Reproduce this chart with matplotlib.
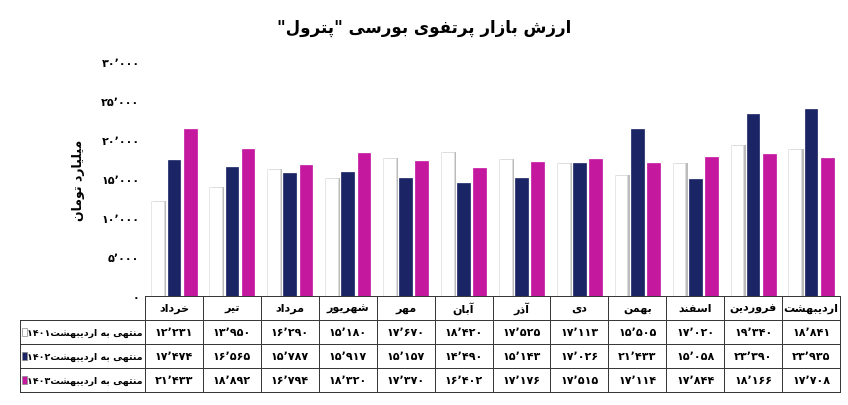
import matplotlib
matplotlib.use("Agg")
import matplotlib.pyplot as plt
from matplotlib.patches import Rectangle

plt.rcParams["font.family"] = "DejaVu Sans"

months = ["خرداد", "تیر", "مرداد", "شهریور", "مهر", "آبان", "آذر", "دی", "بهمن", "اسفند", "فروردین", "اردیبهشت"]
series_names = ["منتهی به اردیبهشت۱۴۰۱", "منتهی به اردیبهشت۱۴۰۲", "منتهی به اردیبهشت۱۴۰۳"]
v1401 = [12231, 13950, 16290, 15180, 17670, 18420, 17525, 17113, 15505, 17020, 19340, 18841]
v1402 = [17474, 16565, 15787, 15917, 15157, 14490, 15143, 17026, 21433, 15058, 23390, 23935]
v1403 = [21433, 18892, 16794, 18320, 17370, 16402, 17176, 17515, 17114, 17844, 18166, 17708]
yticks = [0, 5000, 10000, 15000, 20000, 25000, 30000]
title = 'ارزش بازار پرتفوی بورسی "پترول"'
ylabel = "میلیارد تومان"

colors = ["#ffffff", "#1b2566", "#c4189f"]

F = {}
def _f4(ch, base): F[ch] = (base, base + 1, base + 2, base + 3)
def _f2(ch, base): F[ch] = (base, base + 1, None, None)
for ch, b in [("ب", 0xFE8F), ("ت", 0xFE95), ("ث", 0xFE99), ("ج", 0xFE9D), ("ح", 0xFEA1), ("خ", 0xFEA5),
              ("س", 0xFEB1), ("ش", 0xFEB5), ("ص", 0xFEB9), ("ض", 0xFEBD), ("ط", 0xFEC1), ("ظ", 0xFEC5),
              ("ع", 0xFEC9), ("غ", 0xFECD), ("ف", 0xFED1), ("ق", 0xFED5), ("ل", 0xFEDD), ("م", 0xFEE1),
              ("ن", 0xFEE5), ("ه", 0xFEE9), ("پ", 0xFB56), ("چ", 0xFB7A), ("ک", 0xFB8E), ("گ", 0xFB92),
              ("ی", 0xFBFC)]:
    _f4(ch, b)
for ch, b in [("ا", 0xFE8D), ("آ", 0xFE81), ("د", 0xFEA9), ("ذ", 0xFEAB), ("ر", 0xFEAD), ("ز", 0xFEAF),
              ("ژ", 0xFB8A), ("و", 0xFEED)]:
    _f2(ch, b)

def shape(s):
    out = []
    for i, c in enumerate(s):
        if c not in F:
            out.append(c); continue
        p = s[i - 1] if i > 0 else ""
        n = s[i + 1] if i + 1 < len(s) else ""
        pj = p in F and F[p][2] is not None
        nj = n in F and F[c][2] is not None
        iso, fin, ini, med = F[c]
        if pj and nj: code = med
        elif pj: code = fin
        elif nj: code = ini
        else: code = iso
        out.append(chr(code))
    return "".join(out)

DIG = set("۰۱۲۳۴۵۶۷۸۹٬")
def rtl(s):
    s = shape(s)
    toks, cur, isd = [], "", None
    for c in s:
        d = c in DIG
        if isd is None or d == isd: cur += c
        else: toks.append((cur, isd)); cur = c
        isd = d
    if cur: toks.append((cur, isd))
    return "".join(t if d else t[::-1] for t, d in reversed(toks))

def fa_num(v):
    s = f"{v:,}".replace(",", "٬")
    return s.translate(str.maketrans("0123456789", "۰۱۲۳۴۵۶۷۸۹"))

fig = plt.figure(figsize=(8.48, 4.06), dpi=100)
W, H = 848, 406
ax = fig.add_axes([145 / W, 1 - 297 / H, 695 / W, 234 / H])
n = len(months)
bw = 0.22
for k, (vals, col) in enumerate(zip([v1401, v1402, v1403], colors)):
    xs = [i + (k - 1) * 0.28 for i in range(n)]
    if k == 0:
        ax.bar([x + 0.04 for x in xs], vals, bw, color="#bbbbbb", zorder=1)
    ax.bar(xs, vals, bw, color=col, zorder=2, edgecolor="#dddddd" if k == 0 else col, linewidth=0.5)
ax.set_xlim(-0.5, n - 0.5)
ax.set_ylim(0, 30000)
ax.set_yticks(yticks)
ax.set_yticklabels([fa_num(v) for v in yticks], fontsize=8, fontweight="bold")
ax.set_xticks([])
for s in ["top", "right", "bottom", "left"]:
    ax.spines[s].set_visible(False)
ax.tick_params(axis="y", length=0, pad=4)
ax.set_ylabel(rtl(ylabel), fontsize=9, fontweight="bold", labelpad=12)
fig.text(0.5, 1 - 28 / H, rtl(title), ha="center", va="center", fontsize=12, fontweight="bold")

upx = 695 / n
lab_units = 125 / upx
axt = fig.add_axes([20 / W, 1 - 393 / H, 820 / W, 96 / H])
axt.set_xlim(-0.5 - lab_units, n - 0.5)
axt.set_ylim(4, 0)
axt.axis("off")
lc = "#333333"
for r in range(5):
    x0 = -0.5 if r == 0 else -0.5 - lab_units
    axt.plot([x0, n - 0.5], [r, r], color=lc, lw=0.7, clip_on=False)
for c in range(n + 1):
    axt.plot([c - 0.5, c - 0.5], [0, 4], color=lc, lw=0.7, clip_on=False)
axt.plot([-0.5 - lab_units] * 2, [1, 4], color=lc, lw=0.7, clip_on=False)
for i, m in enumerate(months):
    axt.text(i, 0.5, rtl(m), ha="center", va="center", fontsize=8, fontweight="bold")
for r, (vals, name, col) in enumerate(zip([v1401, v1402, v1403], series_names, colors)):
    y = r + 1.5
    for i, v in enumerate(vals):
        axt.text(i, y, fa_num(v), ha="center", va="center", fontsize=8, fontweight="bold")
    axt.add_patch(Rectangle((-0.5 - lab_units + 0.04, y - 0.15), 0.08, 0.3, facecolor=col,
                            edgecolor="#888888", lw=0.5))
    axt.text(-0.5 - 0.04, y, rtl(name), ha="right", va="center", fontsize=6.8, fontweight="bold")

fig.savefig("out.png", dpi=100)
